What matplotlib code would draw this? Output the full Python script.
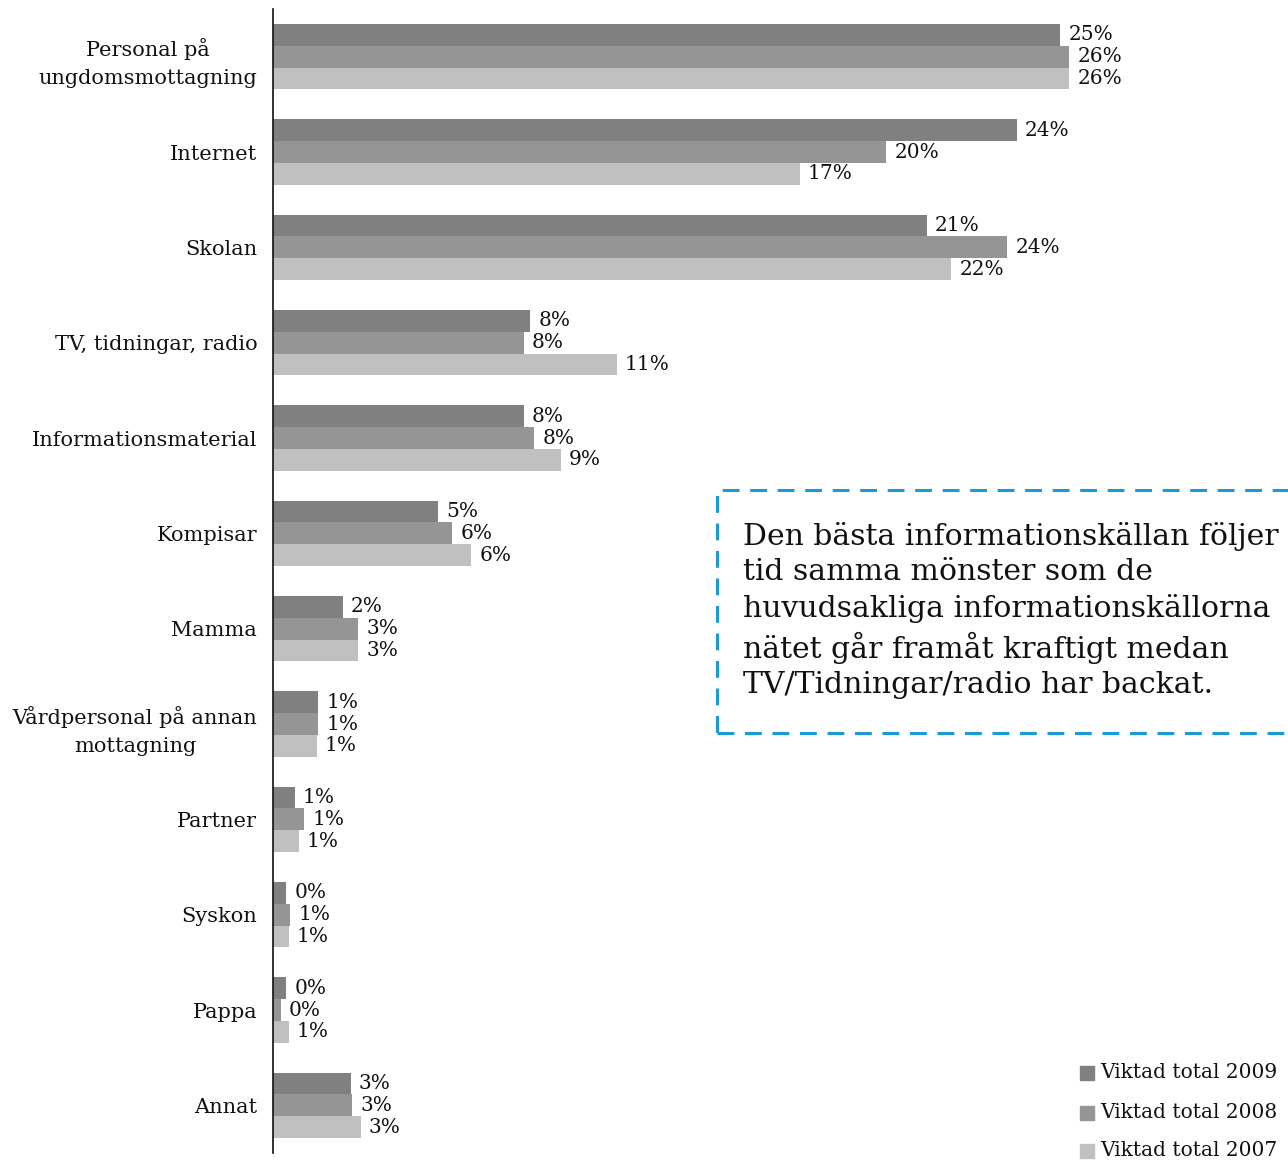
import matplotlib
matplotlib.use("Agg")
import matplotlib.pyplot as plt
from matplotlib.patches import Rectangle
import numpy as np

plt.rcParams['font.family'] = ['DejaVu Serif']

categories = [
    "Personal på\nungdomsmottagning",
    "Internet",
    "Skolan",
    "TV, tidningar, radio",
    "Informationsmaterial",
    "Kompisar",
    "Mamma",
    "Vårdpersonal på annan\nmottagning",
    "Partner",
    "Syskon",
    "Pappa",
    "Annat",
]
series_names = ["Viktad total 2009", "Viktad total 2008", "Viktad total 2007"]
values_2009 = [25.4, 24.0, 21.1, 8.3, 8.1, 5.35, 2.26, 1.48, 0.71, 0.45, 0.45, 2.52]
values_2008 = [25.7, 19.8, 23.7, 8.1, 8.45, 5.8, 2.77, 1.48, 1.03, 0.58, 0.26, 2.58]
values_2007 = [25.7, 17.0, 21.9, 11.1, 9.3, 6.4, 2.77, 1.42, 0.84, 0.52, 0.52, 2.84]
colors = ["#808080", "#959595", "#c0c0c0"]

W, H = 1288, 1164
fig = plt.figure(figsize=(W / 100, H / 100), dpi=100)
ax = fig.add_axes([272.5 / W, 1 - 1153 / H, 1 - 272.5 / W, (1153 - 9) / H])

n = len(categories)
y = np.arange(n)
bh = 0.228
all_series = [values_2009, values_2008, values_2007]
for k, (vals, col, name) in enumerate(zip(all_series, colors, series_names)):
    pos = y + (k - 1) * bh
    ax.barh(pos, vals, height=bh, color=col, label=name, edgecolor='none')
    for p, v in zip(pos, vals):
        ax.text(v + 0.27, p, f"{v:.0f}%", va='center', ha='left', fontsize=14.5,
                color='#111111')

ax.set_ylim(n - 0.5, -0.5)
ax.set_xlim(0, (W - 272.5) / 31.0)
ax.set_yticks(y)
ax.set_yticklabels(categories, fontsize=15, multialignment='center', linespacing=1.6,
                   color='#111111')
ax.tick_params(axis='y', length=0, pad=11)
ax.set_xticks([])
for s in ['top', 'right', 'bottom']:
    ax.spines[s].set_visible(False)
ax.spines['left'].set_color('#111111')
ax.spines['left'].set_linewidth(1.2)

# Legend
leg_y = [1073, 1113, 1151]
for name, col, yy in zip(series_names, colors, leg_y):
    fig.patches.append(Rectangle((1080 / W, 1 - (yy + 7) / H), 14 / W, 14 / H,
                                 transform=fig.transFigure, color=col))
    fig.text(1100 / W, 1 - yy / H, name, fontsize=14.5, va='center', ha='left',
             color='#111111')

# Comment box
box = Rectangle((717 / W, 1 - 733 / H), 700 / W, (733 - 490) / H,
                transform=fig.transFigure, fill=False, edgecolor='#1a9bd7',
                linewidth=2.2, linestyle=(0, (5.5, 3.5)), clip_on=False)
fig.patches.append(box)
note = ("Den bästa informationskällan följer\n"
        "tid samma mönster som de\n"
        "huvudsakliga informationskällorna\n"
        "nätet går framåt kraftigt medan\n"
        "TV/Tidningar/radio har backat.")
fig.text(743 / W, 1 - 522 / H, note, fontsize=21.5, va='top', ha='left',
         linespacing=1.33, color='#111111')

fig.savefig("out.png", dpi=100)
